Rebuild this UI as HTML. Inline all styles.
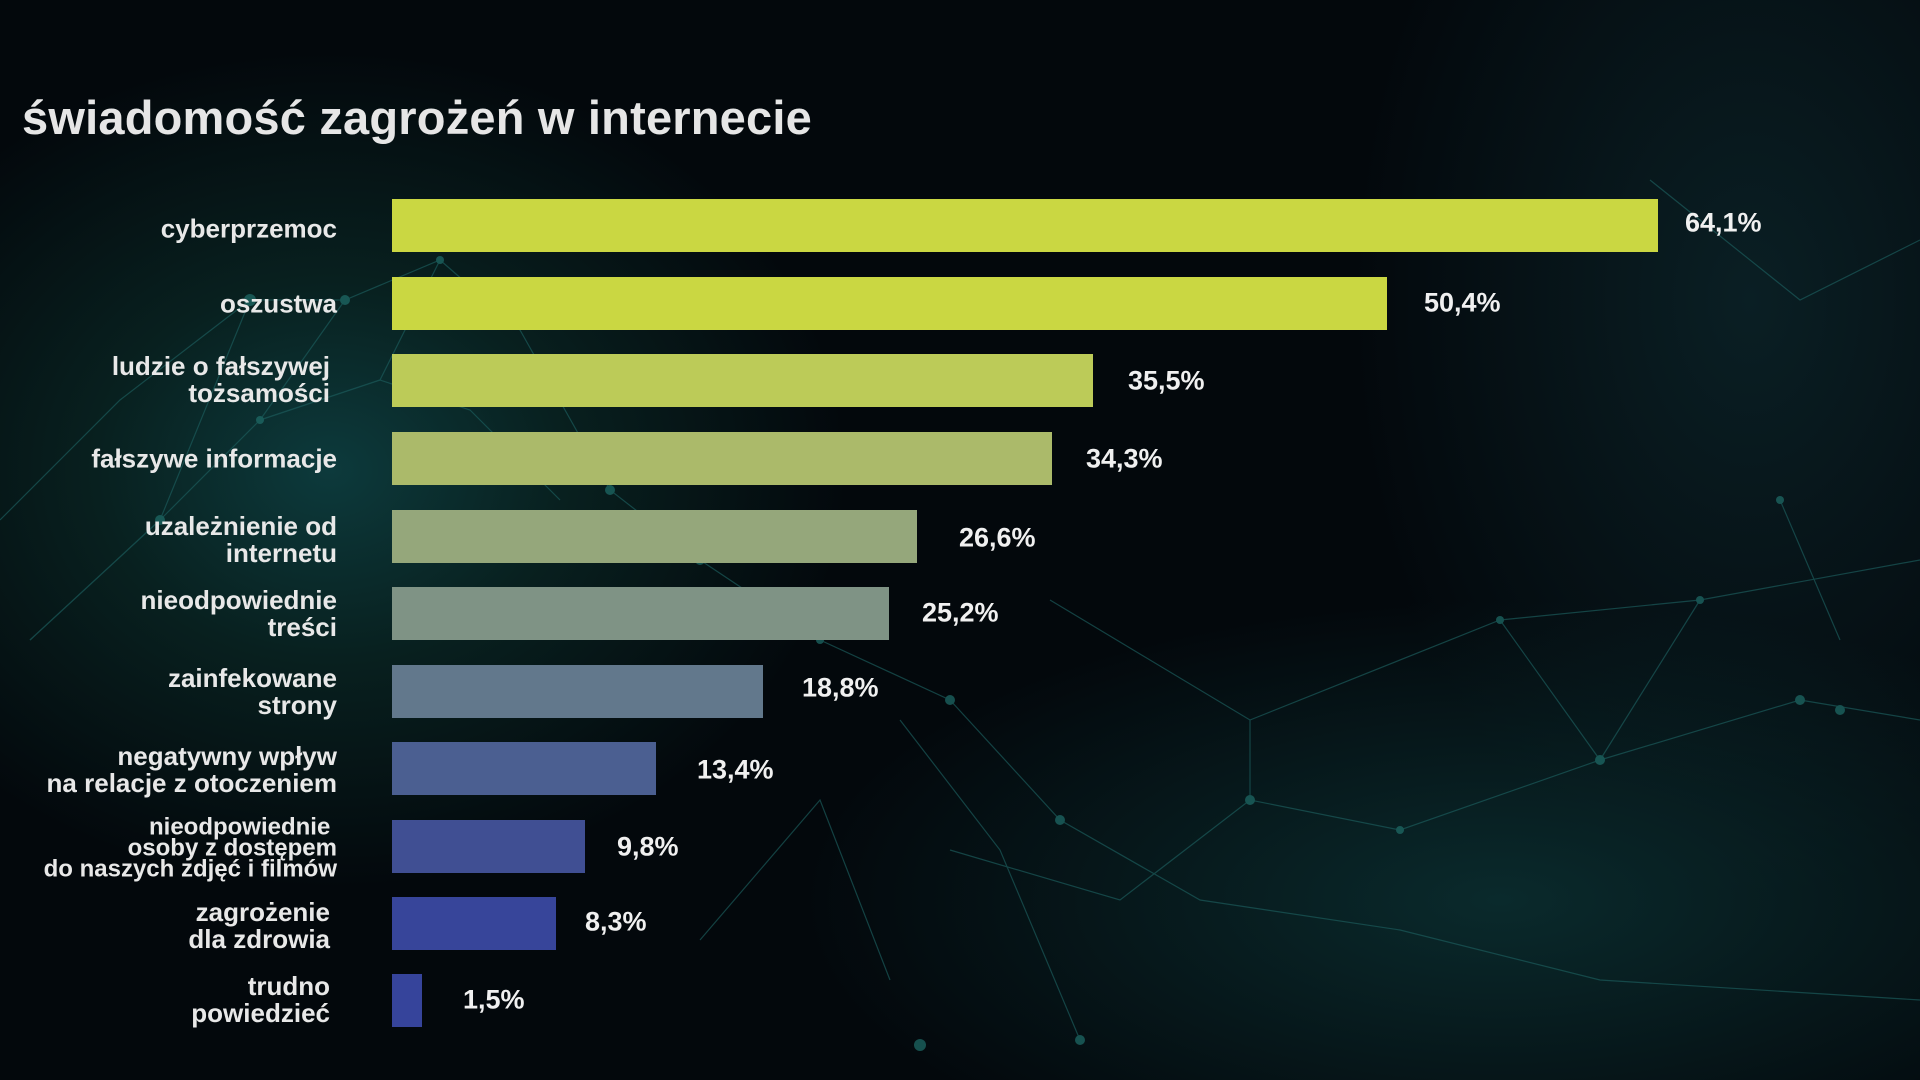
<!DOCTYPE html>
<html><head><meta charset="utf-8"><style>
*{margin:0;padding:0;box-sizing:border-box}
body{width:1920px;height:1080px;overflow:hidden;position:relative;font-family:"Liberation Sans",sans-serif;
background:radial-gradient(ellipse 520px 420px at 330px 470px,#0d3a3c 0%,#08201f 45%,rgba(3,8,12,0) 100%),
radial-gradient(ellipse 700px 300px at 1500px 900px,#0a2a2c 0%,rgba(3,8,12,0) 100%),
radial-gradient(ellipse 400px 600px at 1750px 300px,#0a1f24 0%,rgba(3,8,12,0) 100%),#03080c;}
svg.bg{position:absolute;left:0;top:0}
.t{position:absolute;left:22px;top:88px;font-size:47px;font-weight:bold;color:#e6e6e6;letter-spacing:0.2px}
.bar{position:absolute;left:392px;height:53px}
.lab{position:absolute;right:1583px;transform:translateY(-50%);text-align:right;color:#e8e8e8;font-size:26px;font-weight:bold;line-height:27px;white-space:nowrap}
.lab.s{font-size:24px;line-height:21px}
.v{position:absolute;transform:translateY(-50%);color:#f0f0f0;font-size:27px;font-weight:bold}
</style></head><body>
<svg class="bg" width="1920" height="1080" stroke="#1b5a5a" stroke-width="1.2" fill="#1f6e6a" opacity="0.7">
<g fill="none">
<path d="M0 520 L120 400 L250 300 L345 300 L440 260 L520 330 L610 490 L700 560 L820 640 L950 700 L1060 820 L1200 900 L1400 930 L1600 980 L1920 1000"/>
<path d="M30 640 L160 520 L260 420 L380 380 L470 410 L560 500"/>
<path d="M250 300 L160 520 L30 640"/><path d="M345 300 L260 420 L380 380 L440 260"/>
<path d="M900 720 L1000 850 L1080 1040"/><path d="M700 940 L820 800 L890 980"/>
<path d="M950 850 L1120 900 L1250 800 L1400 830 L1600 760 L1800 700 L1920 720"/>
<path d="M1050 600 L1250 720 L1500 620 L1700 600 L1920 560"/>
<path d="M1500 620 L1600 760 L1700 600"/><path d="M1250 720 L1250 800"/>
<path d="M1650 180 L1800 300 L1920 240"/><path d="M1780 500 L1840 640"/>
</g>
<g stroke="none">
<circle cx="250" cy="300" r="6"/><circle cx="345" cy="300" r="5"/><circle cx="440" cy="260" r="4"/><circle cx="160" cy="520" r="5"/><circle cx="260" cy="420" r="4"/><circle cx="610" cy="490" r="5"/><circle cx="700" cy="560" r="5"/>
<circle cx="820" cy="640" r="4"/><circle cx="950" cy="700" r="5"/><circle cx="1060" cy="820" r="5"/><circle cx="920" cy="1045" r="6"/><circle cx="1080" cy="1040" r="5"/>
<circle cx="1250" cy="800" r="5"/><circle cx="1400" cy="830" r="4"/><circle cx="1600" cy="760" r="5"/><circle cx="1800" cy="700" r="5"/><circle cx="1500" cy="620" r="4"/><circle cx="1700" cy="600" r="4"/><circle cx="1840" cy="710" r="5"/><circle cx="1780" cy="500" r="4"/>
</g></svg>
<div class="t" style="top:90px">świadomość zagrożeń w internecie</div>

<div class="bar" style="top:199px;width:1266px;background:#cad742"></div>
<div class="bar" style="top:277px;width:995px;background:#cad742"></div>
<div class="bar" style="top:354px;width:701px;background:#bccb58"></div>
<div class="bar" style="top:432px;width:660px;background:#abba6a"></div>
<div class="bar" style="top:510px;width:525px;background:#95a77b"></div>
<div class="bar" style="top:587px;width:497px;background:#7f9385"></div>
<div class="bar" style="top:665px;width:371px;background:#62788c"></div>
<div class="bar" style="top:742px;width:264px;background:#4b5f91"></div>
<div class="bar" style="top:820px;width:193px;background:#404f93"></div>
<div class="bar" style="top:897px;width:164px;background:#37459a"></div>
<div class="bar" style="top:974px;width:30px;background:#36449b"></div>

<div class="lab" style="top:229px">cyberprzemoc</div>
<div class="lab" style="top:304px">oszustwa</div>
<div class="lab" style="top:380px;right:1590px">ludzie o fałszywej<br>tożsamości</div>
<div class="lab" style="top:459px">fałszywe informacje</div>
<div class="lab" style="top:540px">uzależnienie od<br>internetu</div>
<div class="lab" style="top:614px">nieodpowiednie<br>treści</div>
<div class="lab" style="top:692px">zainfekowane<br>strony</div>
<div class="lab" style="top:770px">negatywny wpływ<br>na relacje z otoczeniem</div>
<div class="lab s" style="top:848px">nieodpowiednie&nbsp;<br>osoby z dostępem<br>do naszych zdjęć i filmów</div>
<div class="lab" style="top:926px;right:1590px">zagrożenie<br>dla zdrowia</div>
<div class="lab" style="top:1000px;right:1590px">trudno<br>powiedzieć</div>

<div class="v" style="left:1685px;top:223px">64,1%</div>
<div class="v" style="left:1424px;top:303px">50,4%</div>
<div class="v" style="left:1128px;top:381px">35,5%</div>
<div class="v" style="left:1086px;top:459px">34,3%</div>
<div class="v" style="left:959px;top:538px">26,6%</div>
<div class="v" style="left:922px;top:613px">25,2%</div>
<div class="v" style="left:802px;top:688px">18,8%</div>
<div class="v" style="left:697px;top:770px">13,4%</div>
<div class="v" style="left:617px;top:847px">9,8%</div>
<div class="v" style="left:585px;top:922px">8,3%</div>
<div class="v" style="left:463px;top:1000px">1,5%</div>
</body></html>
